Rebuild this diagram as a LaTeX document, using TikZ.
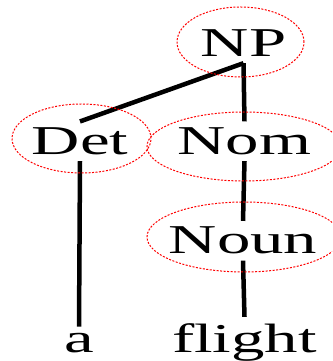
\documentclass[tikz,border=0pt]{standalone}
\usepackage{fontspec}
\setmainfont{Liberation Serif}
\usepackage{graphicx}
\usepackage{tikz}
\usetikzlibrary{positioning}

\tikzset{
	word/.style={inner sep=6pt, anchor=base, font=\fontsize{41}{41}\selectfont},
	branch/.style={line width=4.5pt},
	ring/.style={red, line width=1pt, dash pattern=on 2pt off 1.5pt}
}
\newcommand{\wideword}[1]{\scalebox{1.63}[1]{#1}}

\begin{document}
\begin{tikzpicture}[x=1pt, y=1pt]

			\useasboundingbox (0, 0) rectangle (332, 361);
			\clip (0, 0) rectangle (332, 361);

			\coordinate (np) at (243.5, 304);
			\coordinate (det) at (80, 206.5);
			\coordinate (nom) at (244.5, 206.5);
			\coordinate (noun) at (243, 107);
			\coordinate (wa) at (79, 9);
			\coordinate (wflight) at (244.5, 9);

			\node[word] (NP) at (np) {\wideword{NP}};
			\node[word] (Det) at (det) {\wideword{Det}};
			\node[word] (Nom) at (nom) {\wideword{Nom}};
			\node[word] (Noun) at (noun) {\wideword{Noun}};
			\node[word] (a) at (wa) {\wideword{a}};
			\node[word] (flight) at (wflight) {\wideword{flight}};

			\draw[branch] (NP.south) -- (Det.north);
			\draw[branch] (NP.south) -- (Nom.north);
			\draw[branch] (Det.south) -- (a.north);
			\draw[branch] (Nom.south) -- (Noun.north);
			\draw[branch] (Noun.south) -- (flight.north);

			\foreach \Center/\Rx/\Ry in {{(240.5, 319)}/63.5/35, {(81.5, 222.5)}/69.5/34.5, {(244, 214.5)}/97/34.5, {(244, 124)}/97/35}
			{
					\draw[ring] \Center ellipse [x radius=\Rx pt, y radius=\Ry pt];
			}

		\end{tikzpicture}
\end{document}
